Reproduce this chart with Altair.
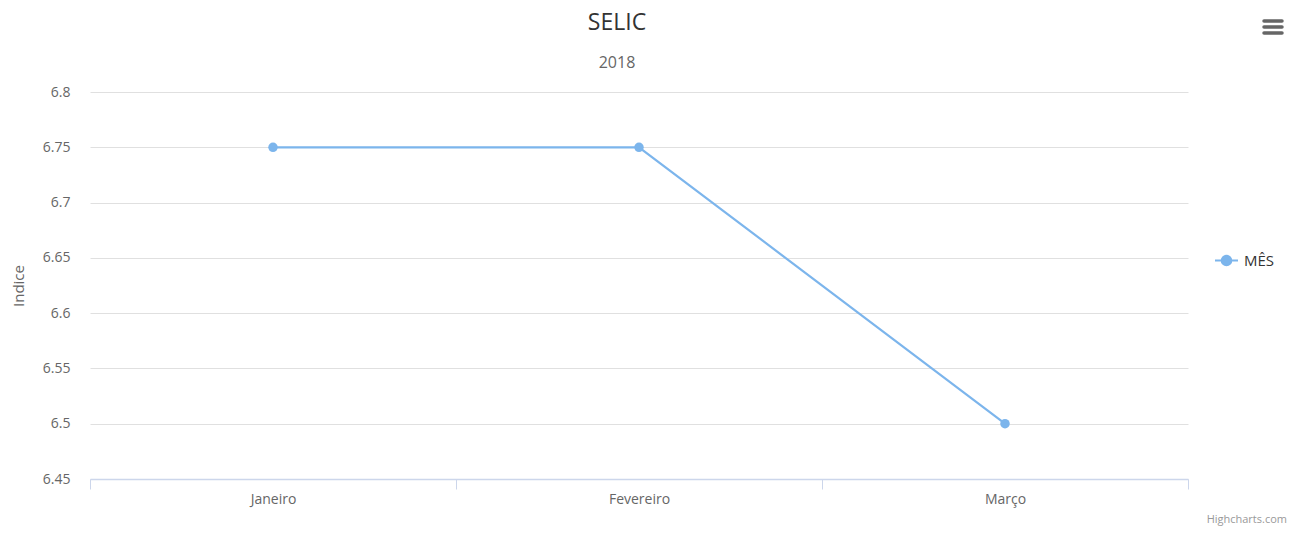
import altair as alt
import pandas as pd

months = ["Janeiro", "Fevereiro", "Março"]
values = [6.75, 6.75, 6.5]
series = ["MÊS", "MÊS", "MÊS"]
y_ticks = [6.45, 6.5, 6.55, 6.6, 6.65, 6.7, 6.75, 6.8]
title_text = ["SELIC"]
subtitle_text = ["2018"]
credit_text = ["Highcharts.com"]

df = pd.DataFrame({"Mes": months, "Indice": values, "Serie": series})

FONT = "Open Sans"
COLOR = "#7cb5ec"

x_enc = alt.X("Mes:N", sort=months, title=None,
              scale=alt.Scale(paddingInner=0, paddingOuter=0),
              axis=alt.Axis(labelAngle=0, tickBand="extent", domainColor="#ccd6eb",
                            domainWidth=1.5, tickColor="#ccd6eb", tickSize=10,
                            labelColor="#666666", labelFontSize=14, labelFont=FONT,
                            labelPadding=3, grid=False))
y_enc = alt.Y("Indice:Q", title="Indice",
              scale=alt.Scale(domain=[6.45, 6.8], zero=False, nice=False),
              axis=alt.Axis(values=y_ticks, format=".2~f", domain=False, ticks=False,
                            gridColor="#e0e0e0", labelColor="#666666", labelFontSize=14,
                            labelFont=FONT, labelPadding=20, titleColor="#666666",
                            titleFontSize=15, titleFontWeight="normal", titleFont=FONT,
                            titlePadding=16))

legend_symbol = "M-1,0 L1,0 M-0.42,0 A0.42,0.42 0 1,0 0.42,0 A0.42,0.42 0 1,0 -0.42,0 Z"

line = alt.Chart(df).mark_line(
    point=alt.OverlayMarkDef(filled=True, size=90, opacity=1), strokeWidth=2.2
).encode(
    x=x_enc, y=y_enc,
    color=alt.Color("Serie:N", scale=alt.Scale(range=[COLOR]),
                    legend=alt.Legend(title=None, orient="none", legendX=1124, legendY=156,
                                      symbolType=legend_symbol, symbolSize=529,
                                      symbolStrokeWidth=2, symbolStrokeColor=COLOR,
                                      symbolFillColor=COLOR, labelFontSize=15,
                                      labelFont=FONT, labelColor="#333333",
                                      labelFontWeight="normal", labelOffset=5))
)

def menu_bar(y):
    return alt.Chart(pd.DataFrame({"k": [0]})).mark_rule(
        color="#666666", strokeWidth=3.5, strokeCap="round"
    ).encode(x=alt.value(1174), x2=alt.value(1192), y=alt.value(y))

title = alt.Chart(pd.DataFrame({"t": title_text})).mark_text(
    align="center", baseline="alphabetic", fontSize=23, color="#333333", font=FONT
).encode(x=alt.value(527), y=alt.value(-62), text="t:N")

subtitle = alt.Chart(pd.DataFrame({"t": subtitle_text})).mark_text(
    align="center", baseline="alphabetic", fontSize=16, color="#666666", font=FONT
).encode(x=alt.value(527), y=alt.value(-24), text="t:N")

credit = alt.Chart(pd.DataFrame({"t": credit_text})).mark_text(
    align="right", baseline="middle", fontSize=11, color="#999999", font=FONT
).encode(x=alt.value(1197), y=alt.value(428), text="t:N")

chart = alt.layer(line, menu_bar(-71), menu_bar(-65), menu_bar(-59),
                  title, subtitle, credit).properties(
    width=1098, height=387,
    padding={"left": 82, "top": 84, "right": 100, "bottom": 54},
    autosize=alt.AutoSizeParams(type="none"),
).configure(font=FONT).configure_view(strokeWidth=0, stroke=None)

chart.save("out.html", embed_options={"renderer": "svg", "actions": False})
